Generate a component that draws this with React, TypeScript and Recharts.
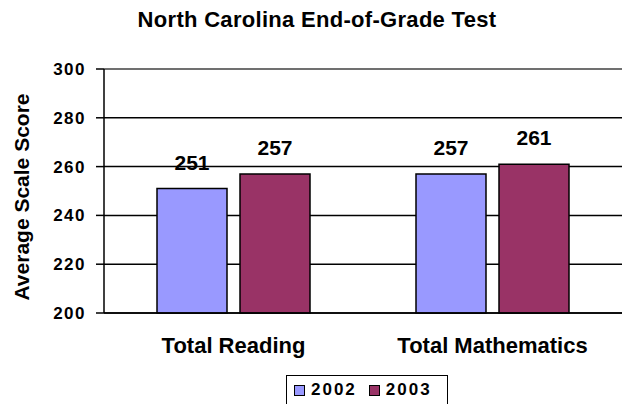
import React from "react";
import {
  Bar,
  BarChart,
  CartesianGrid,
  LabelList,
  Legend,
  ReferenceLine,
  XAxis,
  YAxis,
} from "recharts";

const subjects = ["Total Reading", "Total Mathematics"];
const scores2002 = [251, 257];
const scores2003 = [257, 261];
const yTicks = [200, 220, 240, 260, 280, 300];
const edgeTicks = [0, 1, 2];

const data = subjects.map((name, i) => ({
  name,
  y2002: scores2002[i],
  y2003: scores2003[i],
}));

const FONT = "'Liberation Sans', Arial, sans-serif";

function LegendBox({ payload }: any) {
  return (
    <div
      style={{
        boxSizing: "border-box",
        width: 162,
        height: 32,
        border: "1.5px solid #000",
        background: "#fff",
        display: "flex",
        alignItems: "center",
        paddingLeft: 7,
        paddingBottom: 2,
        fontFamily: FONT,
        fontWeight: 700,
        fontSize: 17,
        letterSpacing: 2,
        color: "#000",
      }}
    >
      {(payload || []).map((p: any, i: number) => (
        <div key={p.value} style={{ display: "flex", alignItems: "center", marginLeft: i ? 12 : 0 }}>
          <span
            style={{
              display: "inline-block",
              boxSizing: "border-box",
              width: 11,
              height: 11,
              border: "1.5px solid #000",
              background: p.color,
              marginRight: 6,
            }}
          />
          <span>{p.value}</span>
        </div>
      ))}
    </div>
  );
}

export default function App() {
  return (
    <div style={{ position: "absolute", left: 0, top: 0, width: 625, height: 404, background: "#fff" }}>
      <div
        style={{
          position: "absolute",
          left: 0,
          top: 9,
          width: 634,
          textAlign: "center",
          fontFamily: FONT,
          fontWeight: 700,
          fontSize: 22,
          lineHeight: "22px",
          letterSpacing: 0.3,
          color: "#000",
        }}
      >
        North Carolina End-of-Grade Test
      </div>
      <BarChart
        width={625}
        height={404}
        data={data}
        margin={{ top: 69, right: 3, bottom: 0, left: 0 }}
        barSize={70}
        barGap={13}
      >
        <CartesianGrid vertical={false} stroke="#000" strokeWidth={1.5} yAxisId="left" xAxisId="cat" />
        <XAxis
          xAxisId="edge"
          type="number"
          domain={[0, 2]}
          ticks={edgeTicks}
          allowDataOverflow
          tick={false}
          tickSize={7}
          tickLine={{ stroke: "#000", strokeWidth: 1.5 }}
          axisLine={false}
          height={0}
        />
        <XAxis
          xAxisId="cat"
          dataKey="name"
          height={59}
          tickLine={false}
          tickSize={0}
          tickMargin={24}
          axisLine={{ stroke: "#000", strokeWidth: 1.5 }}
          tick={{ fill: "#000", fontFamily: FONT, fontWeight: 700, fontSize: 22 }}
        />
        <YAxis
          yAxisId="left"
          width={104}
          domain={[200, 300]}
          ticks={yTicks}
          interval={0}
          tickSize={8}
          tickMargin={10}
          tickLine={{ stroke: "#000", strokeWidth: 1.5 }}
          axisLine={{ stroke: "#000", strokeWidth: 1.5 }}
          tick={{ fill: "#000", fontFamily: FONT, fontWeight: 700, fontSize: 17, letterSpacing: 1.5 }}
          label={{
            content: ({ viewBox }: any) => (
              <text
                x={viewBox.x + 29}
                y={viewBox.y + viewBox.height / 2 + 6}
                transform={`rotate(-90 ${viewBox.x + 29} ${viewBox.y + viewBox.height / 2 + 6})`}
                textAnchor="middle"
                fill="#000"
                style={{ fontFamily: FONT, fontWeight: 700, fontSize: 21 }}
              >
                Average Scale Score
              </text>
            ),
          }}
        />
        <YAxis
          yAxisId="right"
          orientation="right"
          width={0}
          domain={[200, 300]}
          allowDataOverflow
          tick={false}
          tickLine={false}
          axisLine={{ stroke: "#808080", strokeWidth: 1.5 }}
        />
        <ReferenceLine y={300} yAxisId="left" xAxisId="cat" stroke="#808080" strokeWidth={1.5} />
        <Legend
          content={<LegendBox />}
          wrapperStyle={{ left: 286, top: 375, width: 162, height: 32 }}
        />
        <Bar
          dataKey="y2002"
          name="2002"
          xAxisId="cat"
          yAxisId="left"
          fill="#9999FF"
          stroke="#000"
          strokeWidth={1.5}
          isAnimationActive={false}
        >
          <LabelList
            dataKey="y2002"
            position="top"
            offset={19}
            fill="#000"
            style={{ fontFamily: FONT, fontWeight: 700, fontSize: 21 }}
          />
        </Bar>
        <Bar
          dataKey="y2003"
          name="2003"
          xAxisId="cat"
          yAxisId="left"
          fill="#993366"
          stroke="#000"
          strokeWidth={1.5}
          isAnimationActive={false}
        >
          <LabelList
            dataKey="y2003"
            position="top"
            offset={19}
            fill="#000"
            style={{ fontFamily: FONT, fontWeight: 700, fontSize: 21 }}
          />
        </Bar>
      </BarChart>
    </div>
  );
}
